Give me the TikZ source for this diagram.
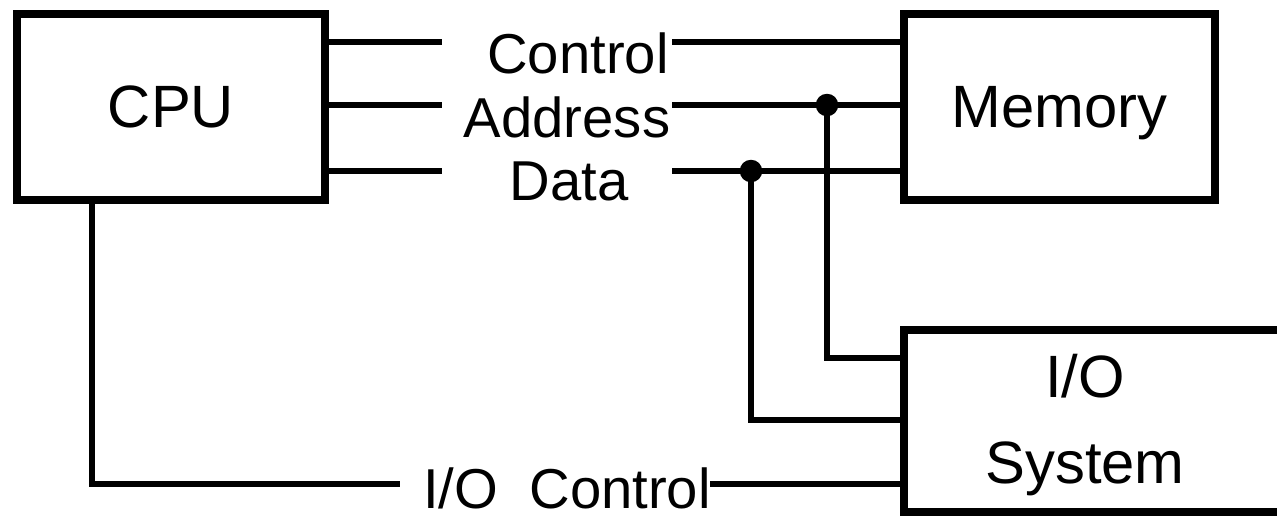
\documentclass[tikz,border=0pt]{standalone}
\usepackage{fontspec}
\setmainfont{Liberation Sans}
\usetikzlibrary{positioning,calc}

\begin{document}
\begin{tikzpicture}[x=0.2mm, y=-0.2mm,
  unit/.style={draw, line width=4pt, outer sep=0pt, inner sep=0pt, minimum height=3.72cm, text depth=0pt, font=\fontsize{34}{41}\selectfont},
  unitword/.style={anchor=base, inner sep=0pt, font=\fontsize{34}{41}\selectfont},
  buslabel/.style={anchor=base, inner sep=0pt, font=\fontsize{32}{38}\selectfont},
  bus/.style={line width=3.7pt},
  tap/.style={circle, fill, inner sep=0pt, minimum size=0.45cm}
]
  \useasboundingbox (0,0) rectangle (1277,517);
  \clip (0,0) rectangle (1277,517);

  % units
  \node[unit, minimum width=6.16cm] (cpu) at (171,107) {CPU};
  \node[unit, minimum width=6.22cm] (mem) at (1059.5,107) {Memory};
  \node[unit, minimum width=8cm, minimum height=3.64cm, anchor=north west] (io) at (904,330) {};
  \node[unitword] (iotop) at (1085,397) {I/O};
  \node[unitword] (iobot) at (1085,483) {System};

  % bus labels
  \node[buslabel] (lctl) at (578,73) {Control};
  \node[buslabel] (ladr) at (567,137) {Address};
  \node[buslabel] (ldat) at (569,200) {Data};
  \node[buslabel] (lioc) at (567,508) {I/O\ \ Control};

  % system bus
  \foreach \y/\n in {42/ctl, 105/adr, 171/dat} {
    \coordinate (\n L) at (442,\y);
    \coordinate (\n R) at (672,\y);
    \draw[bus] (cpu.east |- \n L) -- (\n L);
    \draw[bus] (\n R) -- (mem.west |- \n R);
  }

  % taps to I/O
  \node[tap] (tadr) at (827,105) {};
  \node[tap] (tdat) at (751,171) {};
  \draw[bus] (tadr.center) |- ($(io.north west)+(0,28)$);
  \draw[bus] (tdat.center) |- ($(io.north west)+(0,90)$);

  % I/O control
  \coordinate (iocL) at (400,484);
  \coordinate (iocR) at (710,484);
  \draw[bus] ($(cpu.south west)+(75,0)$) |- (iocL);
  \draw[bus] (iocR) -- (io.west |- iocR);
\end{tikzpicture}
\end{document}
